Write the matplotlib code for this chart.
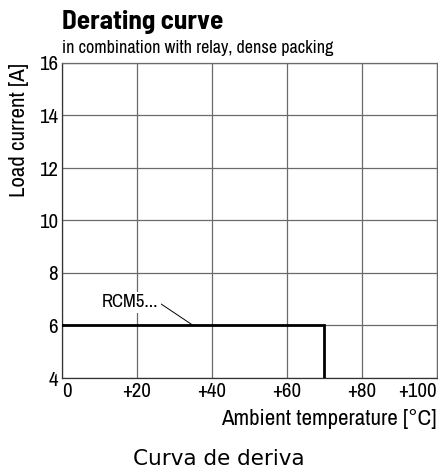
import matplotlib
matplotlib.use("Agg")
import matplotlib.pyplot as plt

# derating curve data
temp = [0, 70, 70]
current = [6, 6, 4]
xticks = [0, 20, 40, 60, 80, 100]
xtick_labels = ["0", "+20", "+40", "+60", "+80", "+100"]
yticks = [4, 6, 8, 10, 12, 14, 16]

plt.rcParams['font.family'] = ['Archivo Narrow', 'DejaVu Sans']

fig = plt.figure(figsize=(4.38, 4.73), dpi=100)
W, H = 438, 473
L, R, T, B = 62, 437, 63, 378
ax = fig.add_axes([L / W, 1 - B / H, (R - L) / W, (B - T) / H])

ax.plot(temp, current, color="black", lw=2, solid_joinstyle="miter", zorder=3)
ax.set_xlim(0, 100)
ax.set_ylim(4, 16)
ax.set_xticks(xticks)
ax.set_xticklabels(xtick_labels)
ax.set_yticks(yticks)
ax.grid(True, color="#6a6a6a", lw=0.9)
ax.tick_params(length=0, labelsize=15, pad=3)
labels = ax.get_xticklabels()
labels[0].set_ha("left")
labels[-1].set_ha("right")
for s in ax.spines.values():
    s.set_color("#6a6a6a")
    s.set_linewidth(0.9)
ax.spines["left"].set_color("#333333")
ax.spines["bottom"].set_color("#333333")

# label with leader line
ax.text(25.6, 6.88, "RCM5...", fontsize=13.5, ha="right", va="center",
        zorder=4, bbox=dict(facecolor="white", edgecolor="none", pad=2))
ax.annotate("", xy=(35, 6), xytext=(26.1, 6.85),
            arrowprops=dict(arrowstyle="-", color="black", lw=0.7,
                            shrinkA=0, shrinkB=0))

fig.text(L / W, 1 - 29 / H, "Derating curve", fontsize=19.5, fontweight="bold",
         ha="left", va="baseline", family="Barlow Semi Condensed")
fig.text(L / W, 1 - 53 / H, "in combination with relay, dense packing",
         fontsize=13, ha="left", va="baseline")
fig.text(19 / W, 1 - T / H, "Load current [A]", fontsize=16.5, rotation=90,
         ha="center", va="top")
fig.text(R / W, 1 - 425 / H, "Ambient temperature [°C]", fontsize=16.5,
         ha="right", va="baseline")
fig.text(219 / W, 1 - 465 / H, "Curva de deriva", fontsize=15.5,
         ha="center", va="baseline", family="DejaVu Sans")

fig.savefig("out.png", dpi=100)
